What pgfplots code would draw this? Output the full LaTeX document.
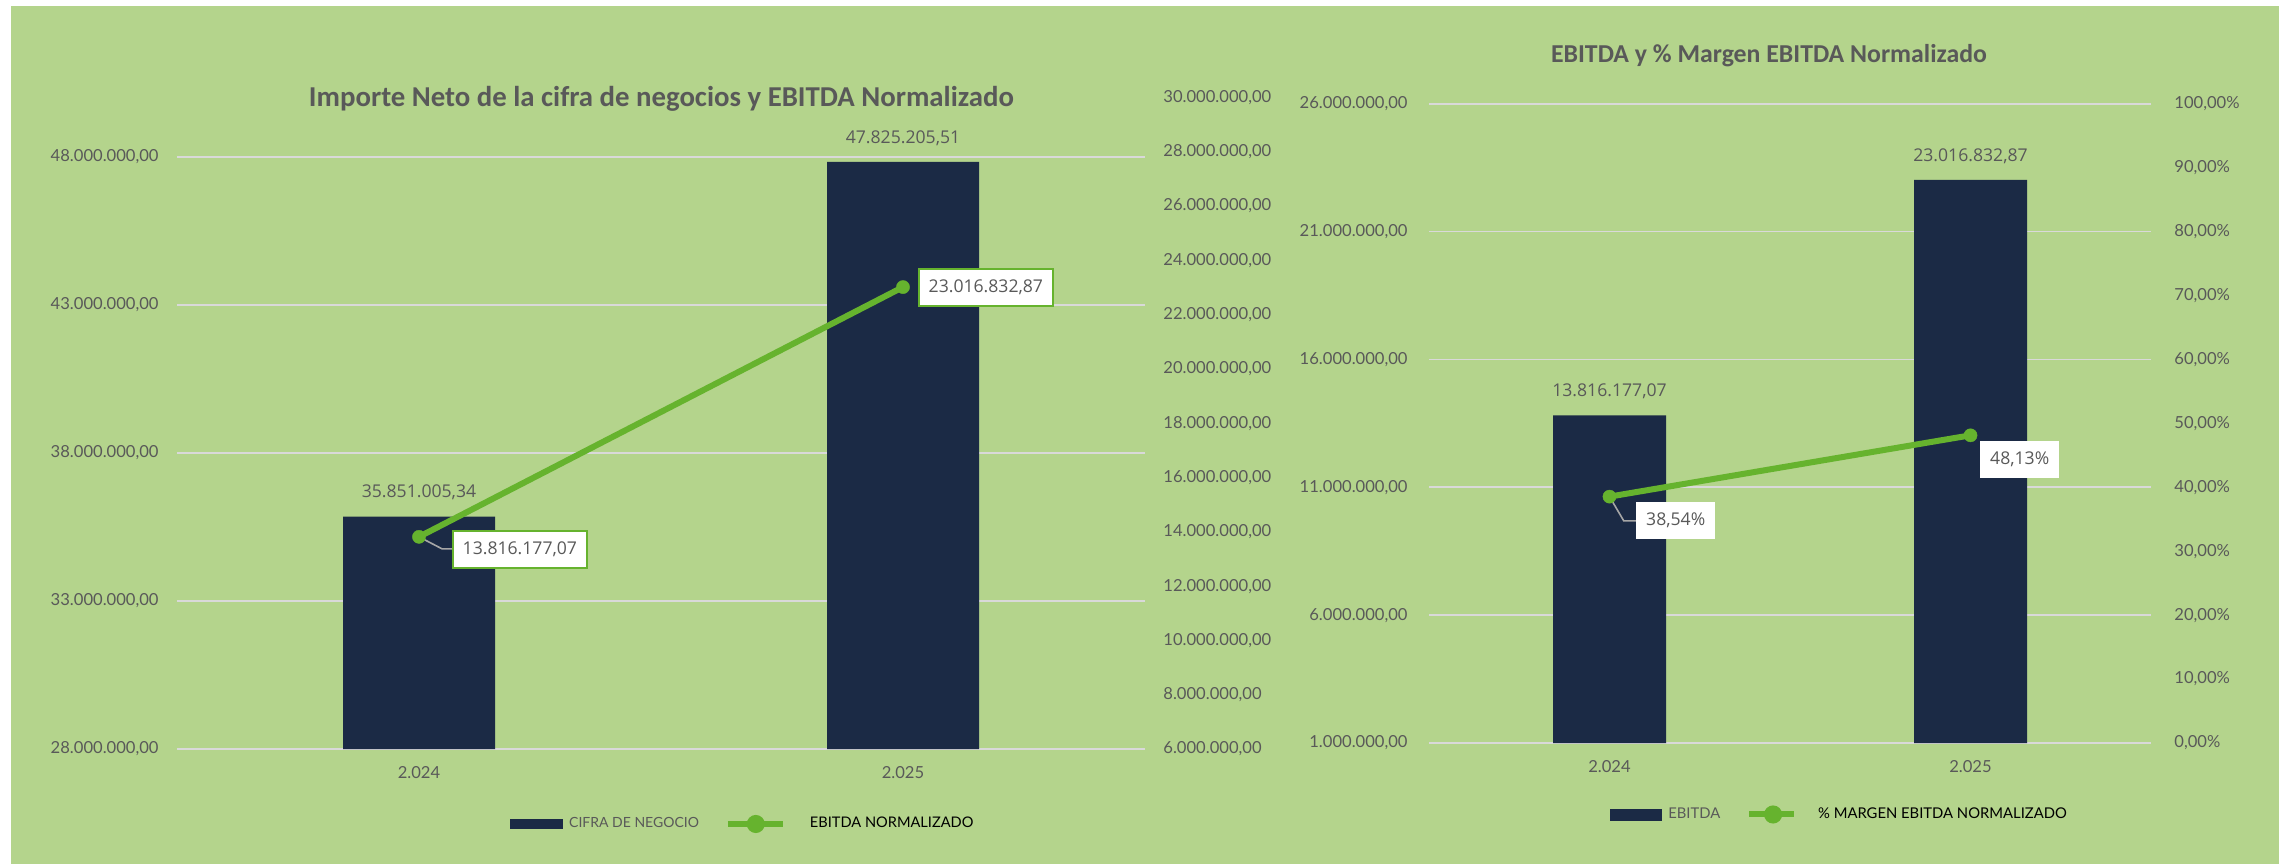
\documentclass[border=0pt]{standalone}
\usepackage{pgfplots}
\pgfplotsset{compat=1.18}
\usepackage{fontspec}
\setmainfont{Lato}
\newfontfamily\titlefont{Carlito}
\newfontfamily\labelfont{Open Sans}
\definecolor{bg}{HTML}{B4D48C}
\definecolor{navy}{HTML}{1B2A45}
\definecolor{lgreen}{HTML}{66B32E}
\definecolor{gridc}{HTML}{D9D9D9}
\definecolor{txt}{HTML}{595959}
\definecolor{leader}{HTML}{A6A6A6}

\pgfplotsset{
  base/.style={
    scale only axis,
    axis line style={draw=none},
    major tick length=0pt,
    scaled y ticks=false,
    tick label style={font=\fontsize{8.3pt}{10pt}\selectfont, text=txt},
    xmin=-0.5, xmax=1.5,
    xtick={0,1}, xticklabels={2.024,2.025},
    xticklabel style={anchor=center, inner sep=0pt, yshift=-12pt},
    clip=false,
  },
  barlabels/.style={
    nodes near coords, point meta=explicit symbolic,
    every node near coord/.style={font=\labelfont\fontsize{8.8pt}{10pt}\selectfont, text=txt, anchor=center, inner sep=0pt, yshift=12pt},
  },
  boxlabel/.style={
    forget plot, draw=none, mark=none,
    nodes near coords, point meta=explicit symbolic,
    every node near coord/.style={font=\labelfont\fontsize{8.8pt}{10pt}\selectfont, text=txt, fill=white, anchor=west, inner xsep=5pt, minimum height=18.3pt, #1},
  },
  bothlegend/.style={
    legend style={draw=none, fill=none, legend columns=2,
      nodes={inner xsep=0pt, inner ysep=1pt},
      /tikz/every even column/.append style={column sep=13pt}},
  },
}

\begin{document}
\begin{tikzpicture}
\path[use as bounding box] (0,0) rectangle (1143.5pt,432pt);
\fill[white] (0,0) rectangle (1143.5pt,432pt);
\fill[bg] (5.5pt,0pt) rectangle (1139.5pt,429pt);

% ---------------- Chart 1 ----------------
\begin{axis}[base,
  at={(88.5pt,57.5pt)}, anchor=south west,
  width=484pt, height=325.75pt,
  ymin=28000000, ymax=50000000,
  ytick={28000000,33000000,38000000,43000000,48000000},
  yticklabels={{28.000.000,00},{33.000.000,00},{38.000.000,00},{43.000.000,00},{48.000.000,00}},
  yticklabel style={anchor=east, inner sep=0pt, xshift=-9pt},
  ymajorgrids, grid style={gridc, line width=0.9pt},
  ybar, bar width=76pt, barlabels,
  title={Importe Neto de la cifra de negocios y EBITDA Normalizado},
  title style={at={(0.5005,0.9992)}, anchor=center, yshift=-6.5pt, font=\titlefont\bfseries\fontsize{14.4pt}{16pt}\selectfont, text=txt},
]
\addplot[fill=navy, draw=none] table[meta=label] {
x y label
0 35851005.34 35.851.005,34
1 47825205.51 47.825.205,51
};
\end{axis}

\begin{axis}[base,
  at={(88.5pt,57.5pt)}, anchor=south west,
  width=484pt, height=325.75pt,
  xtick=\empty,
  ymin=6000000, ymax=30000000,
  ytick={6000000,8000000,10000000,12000000,14000000,16000000,18000000,20000000,22000000,24000000,26000000,28000000,30000000},
  yticklabels={{6.000.000,00},{8.000.000,00},{10.000.000,00},{12.000.000,00},{14.000.000,00},{16.000.000,00},{18.000.000,00},{20.000.000,00},{22.000.000,00},{24.000.000,00},{26.000.000,00},{28.000.000,00},{30.000.000,00}},
  yticklabel pos=right,
  yticklabel style={anchor=west, inner sep=0pt, xshift=9pt},
  bothlegend,
  legend style={at={(0.5836,-0.1151)}, anchor=center},
]
\addlegendimage{legend image code/.code={\fill[navy] (0pt,-2.25pt) rectangle (26pt,2.25pt); \path (29pt,0pt);}}
\addlegendentry[font=\fontsize{7pt}{8pt}\selectfont, text=txt]{CIFRA DE NEGOCIO}
\addplot[lgreen, line width=3pt, mark=*, mark size=3.3pt, mark options={fill=lgreen, draw=lgreen, line width=0.2pt},
  legend image code/.code={\draw[lgreen, line width=3pt] (0pt,0pt) -- (27.75pt,0pt); \fill[lgreen] (13.9pt,0pt) circle (3pt); \path (39.5pt,0pt);}]
  table {
x y
0 13816177.07
1 23016832.87
};
\addlegendentry[font=\fontsize{7.3pt}{8pt}\selectfont, text=black]{EBITDA NORMALIZADO}
\draw[leader, line width=0.8pt] (axis cs:0,13816177.07) -- ++(11.5pt,-6pt) -- ++(5pt,0pt);
\addplot[boxlabel={draw=lgreen, line width=1pt, xshift=16.35pt, yshift=-6.35pt}] table[meta=label] {
x y label
0 13816177.07 13.816.177,07
};
\addplot[boxlabel={draw=lgreen, line width=1pt, xshift=7.35pt, yshift=-0.3pt}] table[meta=label] {
x y label
1 23016832.87 23.016.832,87
};
\end{axis}

% ---------------- Chart 2 ----------------
\begin{axis}[base,
  at={(714.5pt,60.5pt)}, anchor=south west,
  width=361pt, height=319.65pt,
  ymin=1000000, ymax=26000000,
  ytick={1000000,6000000,11000000,16000000,21000000,26000000},
  yticklabels={{1.000.000,00},{6.000.000,00},{11.000.000,00},{16.000.000,00},{21.000.000,00},{26.000.000,00}},
  yticklabel style={anchor=east, inner sep=0pt, xshift=-10.5pt},
  ymajorgrids, grid style={gridc, line width=0.9pt},
  ybar, bar width=56.5pt, barlabels,
  title={EBITDA y \% Margen EBITDA Normalizado},
  title style={at={(0.4709,1.0762)}, anchor=center, yshift=-6.5pt, font=\titlefont\bfseries\fontsize{12.9pt}{15pt}\selectfont, text=txt},
]
\addplot[fill=navy, draw=none] table[meta=label] {
x y label
0 13816177.07 13.816.177,07
1 23016832.87 23.016.832,87
};
\end{axis}

\begin{axis}[base,
  at={(714.5pt,60.5pt)}, anchor=south west,
  width=361pt, height=319.65pt,
  xtick=\empty,
  ymin=0, ymax=100,
  ytick={0,10,20,30,40,50,60,70,80,90,100},
  yticklabels={{0,00\%},{10,00\%},{20,00\%},{30,00\%},{40,00\%},{50,00\%},{60,00\%},{70,00\%},{80,00\%},{90,00\%},{100,00\%}},
  yticklabel pos=right,
  yticklabel style={anchor=west, inner sep=0pt, xshift=11.5pt},
  bothlegend,
  legend style={at={(0.567,-0.1118)}, anchor=center},
]
\addlegendimage{legend image code/.code={\fill[navy] (0pt,-2.75pt) rectangle (25.5pt,2.75pt); \path (28.8pt,0pt);}}
\addlegendentry[font=\fontsize{7.4pt}{8pt}\selectfont, text=txt]{EBITDA}
\addplot[lgreen, line width=3pt, mark=*, mark size=3.3pt, mark options={fill=lgreen, draw=lgreen, line width=0.2pt},
  legend image code/.code={\draw[lgreen, line width=3pt] (0pt,0pt) -- (22.5pt,0pt); \fill[lgreen] (11.9pt,0pt) circle (3pt); \path (32.9pt,0pt);}]
  table {
x y
0 38.54
1 48.13
};
\addlegendentry[font=\fontsize{7.4pt}{8pt}\selectfont, text=black]{\% MARGEN EBITDA NORMALIZADO}
\draw[leader, line width=0.8pt] (axis cs:0,38.54) -- ++(7.15pt,-12.15pt) -- ++(6pt,0pt);
\addplot[boxlabel={xshift=13.15pt, yshift=-11.8pt}] table[meta=label] {
x y label
0 38.54 38,54\%
};
\addplot[boxlabel={xshift=4.65pt, yshift=-12.15pt}] table[meta=label] {
x y label
1 48.13 48,13\%
};
\end{axis}
\end{tikzpicture}
\end{document}
